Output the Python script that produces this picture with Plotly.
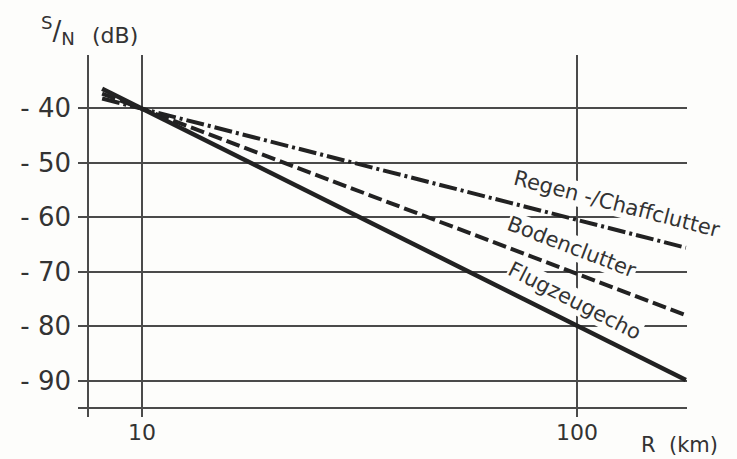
import math
import plotly.graph_objects as go

# Range endpoints (km) and S/N values (dB) for each echo type
range_km = [8.1, 178]
flugzeugecho = [-36.4, -89.9]
bodenclutter = [-37.3, -78.0]
regen_chaff = [-38.2, -65.6]

# Labelled axis ticks, plus the unlabelled frame lines (bottom / left)
y_ticks = [-90, -80, -70, -60, -50, -40]
y_tick_text = ["- 90", "- 80", "- 70", "- 60", "- 50", "- 40"]
y_frame = [-95.1]
x_ticks = [10, 100]
x_tick_text = ["10", "100"]
x_frame = [7.5]

FONT = "DejaVu Sans"
INK = "#222222"
GRID = "#4a4a4a"
TEXT = "#333333"
BG = "#fdfdfb"

fig = go.Figure()

fig.add_trace(go.Scatter(x=range_km, y=regen_chaff, mode="lines",
                         line=dict(color=INK, width=4, dash="18px,4px,3px,4px")))
fig.add_trace(go.Scatter(x=range_km, y=bodenclutter, mode="lines",
                         line=dict(color=INK, width=4, dash="14px,5px")))
fig.add_trace(go.Scatter(x=range_km, y=flugzeugecho, mode="lines",
                         line=dict(color=INK, width=4.5)))

# Curve names written along each line (annotation x on a log axis is log10)
labels = [
    ("Regen -/Chaffclutter", 123.6, -57.5, 14.5),
    ("Bodenclutter", 97.4, -65.4, 21),
    ("Flugzeugecho", 98.9, -75.3, 27),
]
for text, x, y, ang in labels:
    fig.add_annotation(x=math.log10(x), y=y, text=text, showarrow=False,
                       textangle=ang, bgcolor=BG, borderpad=0,
                       font=dict(family=FONT, size=21, color=TEXT))

fig.add_annotation(xref="paper", yref="paper", x=-0.064, y=1.069,
                   xanchor="left", yanchor="middle", showarrow=False,
                   text="<sup>S</sup>/<sub>N</sub>",
                   font=dict(family=FONT, size=26, color=TEXT))
fig.add_annotation(xref="paper", yref="paper", x=0.019, y=1.055,
                   xanchor="left", yanchor="middle", showarrow=False,
                   text="(dB)",
                   font=dict(family=FONT, size=22, color=TEXT))
fig.add_annotation(xref="paper", yref="paper", x=0.987, y=-0.077,
                   xanchor="center", yanchor="middle", showarrow=False,
                   text="R  (km)",
                   font=dict(family=FONT, size=21, color=TEXT))

fig.update_xaxes(type="log", range=[0.853, 2.253], tickmode="array",
                 tickvals=x_ticks, ticktext=x_tick_text,
                 showgrid=True, gridcolor=GRID, gridwidth=1.5,
                 minor=dict(tickmode="array", tickvals=x_frame, showgrid=True,
                            gridcolor=GRID, gridwidth=1.5, ticks=""),
                 zeroline=False, showline=False, ticks="",
                 tickfont=dict(family=FONT, size=22, color=TEXT))
fig.update_yaxes(range=[-96.7, -30.2], tickmode="array",
                 tickvals=y_ticks, ticktext=y_tick_text,
                 showgrid=True, gridcolor=GRID, gridwidth=1.5,
                 minor=dict(tickmode="array", tickvals=y_frame, showgrid=True,
                            gridcolor=GRID, gridwidth=1.5, ticks=""),
                 zeroline=False, showline=False, ticks="",
                 ticklabelstandoff=6,
                 tickfont=dict(family=FONT, size=26, color=TEXT))

fig.update_layout(width=737, height=459, showlegend=False,
                  margin=dict(l=78, r=50, t=55, b=42),
                  plot_bgcolor=BG, paper_bgcolor=BG)

fig.write_html("out.html")
